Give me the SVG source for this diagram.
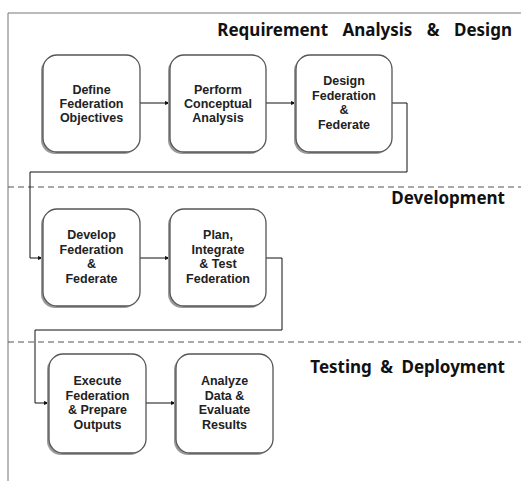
<svg xmlns="http://www.w3.org/2000/svg" width="521" height="481" viewBox="0 0 521 481">
<defs>
<style>
.frame{fill:none;stroke:#777;stroke-width:1}
.dash{fill:none;stroke:#555;stroke-width:1.2;stroke-dasharray:6 4}
.shadow{fill:#9a9a9a}
.box{fill:#fff;stroke:#555;stroke-width:1.3}
.lbl{font-family:"Liberation Sans",Arial,sans-serif;font-weight:bold;font-size:12.5px;fill:#222;text-anchor:middle}
.title{font-family:"Noto Sans","Open Sans",sans-serif;font-weight:bold;font-size:17px;fill:#111;text-anchor:end}
.conn{fill:none;stroke:#111;stroke-width:1}
</style>
<marker id="arr" viewBox="0 0 10 10" refX="10" refY="5" markerWidth="5" markerHeight="5" orient="auto" markerUnits="userSpaceOnUse">
<path d="M0,1 L10,5 L0,9 z" fill="#111"/>
</marker>
</defs>
<rect width="521" height="481" fill="#fff"/>
<g id="frame">
<path class="frame" d="M8,481 V13 H521"/>
<path class="dash" d="M8,187 H521"/>
<path class="dash" d="M8,342 H521"/>
</g>
<g id="titles">
<text class="title" x="512" y="36" word-spacing="10">Requirement Analysis &amp; Design</text>
<text class="title" x="505" y="204">Development</text>
<text class="title" x="505" y="373" word-spacing="4">Testing &amp; Deployment</text>
</g>
<g id="connectors">
<path class="conn" marker-end="url(#arr)" d="M140,103 H170"/>
<path class="conn" marker-end="url(#arr)" d="M266,103 H296"/>
<path class="conn" marker-end="url(#arr)" d="M392,103 H407 V172 H30 V258 H43"/>
<path class="conn" marker-end="url(#arr)" d="M140,258 H170"/>
<path class="conn" marker-end="url(#arr)" d="M266,258 H282 V330 H35 V403 H49"/>
<path class="conn" marker-end="url(#arr)" d="M146,403 H176"/>
</g>
<g id="n1">
<rect class="shadow" x="41" y="57" width="97" height="97" rx="14"/>
<rect class="box" x="43" y="55" width="97" height="97" rx="14"/>
<text class="lbl" x="91.5"><tspan x="91.5" y="94">Define</tspan><tspan x="91.5" y="108">Federation</tspan><tspan x="91.5" y="122">Objectives</tspan></text>
</g>
<g id="n2">
<rect class="shadow" x="168" y="57" width="96" height="97" rx="14"/>
<rect class="box" x="170" y="55" width="96" height="97" rx="14"/>
<text class="lbl"><tspan x="218" y="94">Perform</tspan><tspan x="218" y="108">Conceptual</tspan><tspan x="218" y="122">Analysis</tspan></text>
</g>
<g id="n3">
<rect class="shadow" x="294" y="57" width="96" height="97" rx="14"/>
<rect class="box" x="296" y="55" width="96" height="97" rx="14"/>
<text class="lbl"><tspan x="344" y="85">Design</tspan><tspan x="344" y="100">Federation</tspan><tspan x="344" y="114">&amp;</tspan><tspan x="344" y="129">Federate</tspan></text>
</g>
<g id="n4">
<rect class="shadow" x="41" y="211" width="97" height="97" rx="14"/>
<rect class="box" x="43" y="209" width="97" height="97" rx="14"/>
<text class="lbl"><tspan x="91.5" y="239">Develop</tspan><tspan x="91.5" y="254">Federation</tspan><tspan x="91.5" y="268">&amp;</tspan><tspan x="91.5" y="283">Federate</tspan></text>
</g>
<g id="n5">
<rect class="shadow" x="168" y="211" width="96" height="97" rx="14"/>
<rect class="box" x="170" y="209" width="96" height="97" rx="14"/>
<text class="lbl"><tspan x="218" y="239">Plan,</tspan><tspan x="218" y="254">Integrate</tspan><tspan x="218" y="268">&amp; Test</tspan><tspan x="218" y="283">Federation</tspan></text>
</g>
<g id="n6">
<rect class="shadow" x="47" y="356" width="97" height="99" rx="14"/>
<rect class="box" x="49" y="354" width="97" height="99" rx="14"/>
<text class="lbl"><tspan x="97.5" y="385">Execute</tspan><tspan x="97.5" y="400">Federation</tspan><tspan x="97.5" y="414">&amp; Prepare</tspan><tspan x="97.5" y="429">Outputs</tspan></text>
</g>
<g id="n7">
<rect class="shadow" x="174" y="356" width="97" height="99" rx="14"/>
<rect class="box" x="176" y="354" width="97" height="99" rx="14"/>
<text class="lbl"><tspan x="224.5" y="385">Analyze</tspan><tspan x="224.5" y="400">Data &amp;</tspan><tspan x="224.5" y="414">Evaluate</tspan><tspan x="224.5" y="429">Results</tspan></text>
</g>
</svg>
